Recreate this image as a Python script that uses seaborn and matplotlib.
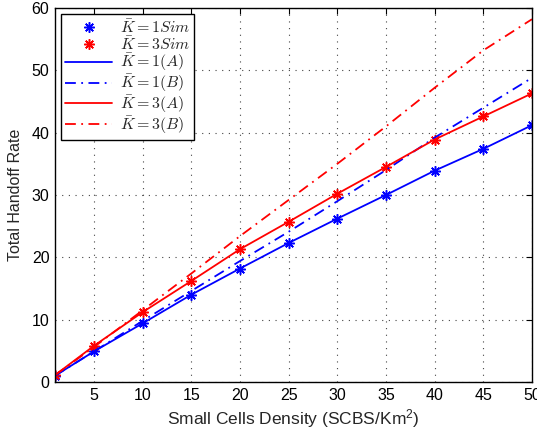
import matplotlib
matplotlib.use("Agg")
import matplotlib.pyplot as plt
import seaborn as sns
import numpy as np

# ---- data ----
density = [1, 5, 10, 15, 20, 25, 30, 35, 40, 45, 50]
k1_sim = [1.0, 4.9, 9.4, 14.0, 18.2, 22.3, 26.2, 30.0, 33.9, 37.4, 41.2]
k3_sim = [1.1, 5.8, 11.2, 16.2, 21.3, 25.7, 30.2, 34.5, 38.9, 42.6, 46.3]
k1_A = [1.0, 4.9, 9.4, 14.0, 18.2, 22.3, 26.2, 30.0, 33.9, 37.4, 41.2]
k1_B = [1.0, 4.9, 9.8, 14.6, 19.4, 24.1, 29.0, 34.0, 39.2, 44.0, 48.8]
k3_A = [1.1, 5.8, 11.2, 16.2, 21.3, 25.7, 30.2, 34.5, 38.9, 42.6, 46.3]
k3_B = [1.1, 5.6, 11.5, 17.4, 23.4, 29.2, 35.0, 41.0, 47.2, 53.2, 58.2]

labels = [r'$\bar{K}=1Sim$', r'$\bar{K}=3Sim$', r'$\bar{K}=1(A)$',
          r'$\bar{K}=1(B)$', r'$\bar{K}=3(A)$', r'$\bar{K}=3(B)$']
xticks = [5, 10, 15, 20, 25, 30, 35, 40, 45, 50]
yticks = [0, 10, 20, 30, 40, 50, 60]

sns.set_style("white")
plt.rcParams['font.family'] = ['Liberation Sans', 'DejaVu Sans']
plt.rcParams['mathtext.fontset'] = 'custom'
plt.rcParams['mathtext.rm'] = 'Liberation Sans'
plt.rcParams['mathtext.it'] = 'Liberation Sans:italic'

fig = plt.figure(figsize=(5.37, 4.36), dpi=100)
ax = fig.add_axes([0.1024, 0.1239, 0.8883, 0.8578])

blue = '#0000ff'
red = '#ff0000'
ast = (8, 2, 0)
lw = 1.3
dd = (6, 3, 1, 3)

sns.lineplot(x=density, y=k1_sim, ax=ax, color=blue, linestyle='none',
             marker=ast, markersize=7.5, markeredgewidth=1.1, markeredgecolor=blue,
             label=labels[0])
sns.lineplot(x=density, y=k3_sim, ax=ax, color=red, linestyle='none',
             marker=ast, markersize=7.5, markeredgewidth=1.1, markeredgecolor=red,
             label=labels[1])
sns.lineplot(x=density, y=k1_A, ax=ax, color=blue, linewidth=lw, label=labels[2])
sns.lineplot(x=density, y=k1_B, ax=ax, color=blue, linewidth=lw,
             linestyle='-.', label=labels[3])
sns.lineplot(x=density, y=k3_A, ax=ax, color=red, linewidth=lw, label=labels[4])
sns.lineplot(x=density, y=k3_B, ax=ax, color=red, linewidth=lw,
             linestyle='-.', label=labels[5])
for ln in ax.get_lines():
    if ln.get_linestyle() == '-.':
        ln.set_dashes(dd)

ax.set_xlim(1, 50)
ax.set_ylim(0, 60)
ax.set_xticks(xticks)
ax.set_yticks(yticks)
ax.tick_params(direction='in', top=True, right=True, length=4, width=0.8,
               labelsize=11.5, colors='black', pad=4)
ax.grid(True, linestyle=(0, (1, 5)), color='#444444', linewidth=0.8)
for s in ax.spines.values():
    s.set_visible(True)
    s.set_color('black')
    s.set_linewidth(1.0)

ax.set_xlabel(r'Small Cells Density (SCBS/Km$^2$)', fontsize=12.5, labelpad=3)
ax.set_ylabel('Total Handoff Rate', fontsize=11.5, labelpad=6)

leg = ax.legend(loc='upper left', fontsize=11.5, frameon=True, fancybox=False,
                edgecolor='black', framealpha=1, handlelength=2.9,
                borderaxespad=0.4, labelspacing=-0.05, borderpad=0.25,
                handletextpad=0.5)
leg.get_frame().set_linewidth(1.0)
for t in leg.get_texts():
    t.set_math_fontfamily('cm')
for h in leg.legend_handles:
    if h.get_linestyle() == '-.':
        h.set_dashes(dd)

fig.savefig('out.png', dpi=100)
